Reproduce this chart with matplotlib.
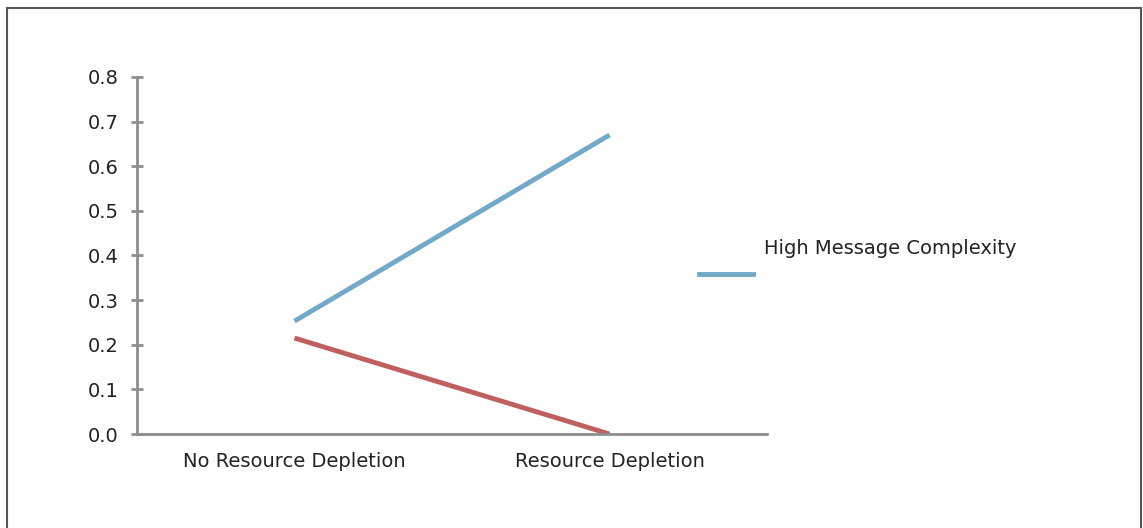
import matplotlib.pyplot as plt
from matplotlib.lines import Line2D
from matplotlib.patches import Rectangle

plt.rcParams['font.family'] = ['DejaVu Sans']

categories = ["No Resource Depletion", "Resource Depletion"]
high_complexity = [0.253, 0.670]
low_complexity = [0.215, 0.0]
legend_label = "High Message Complexity"

blue = "#72a9c8"
red = "#c0605e"
grey = "#8e8e92"

fig = plt.figure(figsize=(11.43, 5.28), dpi=100)
ax = fig.add_axes([137 / 1143, 94 / 528, 630 / 1143, 357 / 528])

x = [0.5, 1.5]
ax.plot(x, high_complexity, color=blue, lw=3.5, solid_capstyle="butt")
ax.plot(x, low_complexity, color=red, lw=3.5, solid_capstyle="butt")

ax.set_xlim(0, 2)
ax.set_ylim(0, 0.8)
ax.set_xticks(x)
ax.set_xticklabels(categories)
ax.set_yticks([i / 10 for i in range(9)])
ax.set_yticklabels([f"{i / 10:.1f}" for i in range(9)])

for s in ["top", "right"]:
    ax.spines[s].set_visible(False)
for s in ["left", "bottom"]:
    ax.spines[s].set_color(grey)
    ax.spines[s].set_linewidth(2)
ax.tick_params(axis="y", direction="inout", length=8, width=2, color=grey,
               labelsize=14, pad=9)
ax.tick_params(axis="x", length=0, labelsize=14, pad=13)
for t in ax.get_xticklabels() + ax.get_yticklabels():
    t.set_color("#222222")

# legend (only the blue series is labelled in the original)
fig.add_artist(Line2D([699 / 1143, 753 / 1143], [1 - 274 / 528, 1 - 274 / 528],
                      color=blue, lw=3.5, transform=fig.transFigure))
fig.text(764 / 1143, 1 - 248 / 528, legend_label, fontsize=14,
         va="center", ha="left", color="#222222")

# outer frame
fig.add_artist(Rectangle((7 / 1143, -0.05), 1134 / 1143, 1.05 - 8 / 528,
                         fill=False, edgecolor="#555555", lw=1.5,
                         transform=fig.transFigure))

fig.savefig("out.png", dpi=100)
